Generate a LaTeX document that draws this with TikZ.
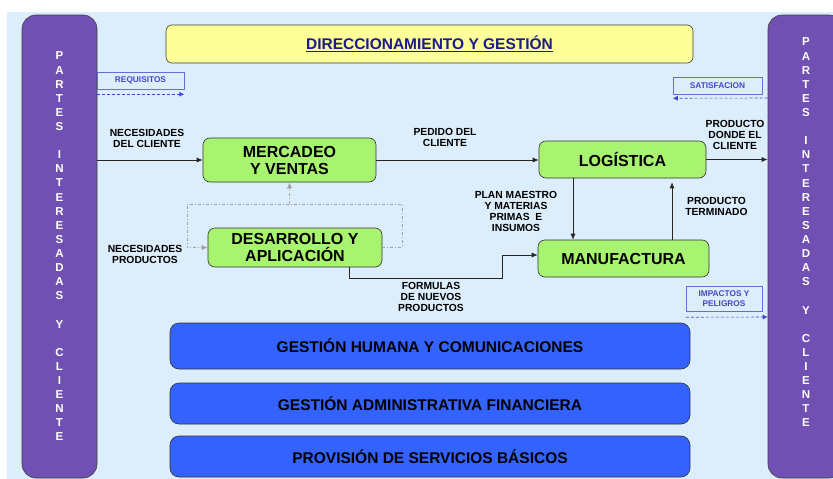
\documentclass[tikz,border=0pt]{standalone}
\usepackage{fontspec}
\setmainfont{Liberation Sans}
\usetikzlibrary{arrows.meta,calc}
\definecolor{bgblue}{RGB}{220,237,251}
\definecolor{barpurple}{RGB}{112,80,178}
\definecolor{boxgreen}{RGB}{168,244,112}
\definecolor{boxyellow}{RGB}{255,255,153}
\definecolor{boxblue}{RGB}{52,98,255}
\definecolor{txtblue}{RGB}{70,70,205}
\definecolor{navy}{RGB}{26,26,140}
\definecolor{loopgray}{RGB}{160,160,165}
\begin{document}
\begin{tikzpicture}[x=1pt,y=-1pt,
  purplebar/.style={draw=black!75,line width=0.6pt,fill=barpurple,rounded corners=14pt},
  greenbox/.style={draw=black!80,line width=0.6pt,fill=boxgreen,rounded corners=7pt,
    font=\bfseries\fontsize{16}{17}\selectfont,align=center,inner sep=0pt},
  bluebox/.style={draw=black!80,line width=0.6pt,fill=boxblue,rounded corners=9pt,
    font=\bfseries\fontsize{15.5}{17}\selectfont,minimum width=520pt,inner sep=0pt},
  smallbox/.style={draw=txtblue!80,line width=0.5pt,text=txtblue,align=center,inner sep=0pt,
    font=\bfseries\fontsize{8.3}{10}\selectfont},
  lbl/.style={align=center,inner sep=0pt,font=\bfseries\fontsize{10.3}{11}\selectfont},
  vletter/.style={text=white,inner sep=0pt,font=\bfseries\fontsize{11.5}{12}\selectfont},
  arr/.style={draw=black!85,line width=0.7pt,-{Latex[length=6pt,width=5pt]}},
  dasharr/.style={draw=txtblue,line width=0.6pt,dash pattern=on 3pt off 2pt,-{Latex[length=5pt,width=5pt]}},
  loopline/.style={draw=loopgray,line width=0.8pt,dash pattern=on 3pt off 2pt on 1pt off 2pt}
]
\useasboundingbox (0,0) rectangle (833,479);
\clip (0,0) rectangle (833,479);
\fill[white] (0,0) rectangle (833,479);
\fill[bgblue] (7,12) rectangle (840,490);

% side bars
\node[purplebar,minimum width=75pt,minimum height=463pt] (L) at (59.5,246.5) {};
\node[purplebar,minimum width=75pt,minimum height=463pt] (R) at (805.5,246.5) {};
\foreach \c [count=\i] in {P,A,R,T,E,S,{},I,N,T,E,R,E,S,A,D,A,S,{},Y,{},C,L,I,E,N,T,E}{
  \node[vletter] (lt\i) at (59.5,{56+(\i-1)*14.11}) {\c};
  \node[vletter] (rt\i) at (806,{42+(\i-1)*14.11}) {\c};
}

% top box
\node[draw=black!75,line width=0.6pt,fill=boxyellow,rounded corners=6pt,minimum width=527pt,minimum height=38pt,
  text=navy,font=\bfseries\fontsize{15.5}{17}\selectfont] (dir) at (429.5,44) {\underline{DIRECCIONAMIENTO Y GESTIÓN}};

% small blue boxes
\node[smallbox,minimum width=87pt,minimum height=17pt] (req) at (140.5,80.5) {REQUISITOS};
\node[smallbox,minimum width=89pt,minimum height=17pt] (sat) at (717.5,85.5) {SATISFACION};
\node[smallbox,minimum width=76pt,minimum height=25pt] (imp) at (724,298.5) {IMPACTOS Y\\PELIGROS};
\draw[dasharr] ($(req.south west)+(0,5)$) -- ($(req.south east)+(0,5)$);
\draw[dasharr] (R.west |- 0,98) -- ($(sat.south west)+(0,4)$);
\draw[dasharr] ($(imp.south west)+(0,6)$) -- (R.west |- 0,317);

% process boxes
\node[greenbox,minimum width=173pt,minimum height=44pt] (merc) at (289.5,160) {MERCADEO\\Y VENTAS};
\node[greenbox,minimum width=174pt,minimum height=39pt] (des) at (295,247.5) {DESARROLLO Y\\APLICACIÓN};
\node[greenbox,minimum width=167pt,minimum height=37pt] (log) at (622.5,159.5) {LOGÍSTICA};
\node[greenbox,minimum width=171pt,minimum height=37pt] (manu) at (623.5,258.5) {MANUFACTURA};

% bottom boxes
\node[bluebox,minimum height=46pt] (gh) at (430,346) {GESTIÓN HUMANA Y COMUNICACIONES};
\node[bluebox,minimum height=41pt] (ga) at (430,403.5) {GESTIÓN ADMINISTRATIVA FINANCIERA};
\node[bluebox,minimum height=41pt] (ps) at (430,456.5) {PROVISIÓN DE SERVICIOS BÁSICOS};

% gray loop
\coordinate (lpL) at (187,204);
\coordinate (lpR) at (402,204);
\draw[loopline,-{Latex[length=6pt,width=5pt]}] (des.east) -| (lpR) -- (lpL) |- (des.west);
\draw[loopline,-{Latex[length=6pt,width=5pt]}] (merc.south |- lpL) -- (merc.south);

% flows
\draw[arr] (L.east |- merc.west) -- (merc.west);
\draw[arr] (merc.east) -- (log.west |- merc.east);
\draw[arr] (log.east) -- (R.west |- log.east);
\draw[arr] ([xshift=-49.5pt]log.south) -- ([xshift=-49.5pt]log.south |- manu.north);
\draw[arr] ([xshift=48.5pt]manu.north) -- ([xshift=48.5pt,yshift=-4pt]manu.north |- log.south);
\draw[arr] ([xshift=54pt]des.south) -- ++(0,11) -| ([xshift=-35pt,yshift=3.5pt]manu.west) -- ([yshift=3.5pt]manu.west);

% labels
\node[lbl] (l1) at (147,138.5) {NECESIDADES\\DEL CLIENTE};
\node[lbl] (l2) at (445,137) {PEDIDO DEL\\CLIENTE};
\node[lbl] (l3) at (735,134.5) {PRODUCTO\\DONDE EL\\CLIENTE};
\node[lbl] (l4) at (145,254.5) {NECESIDADES\\PRODUCTOS};
\node[lbl] (l5) at (516,211) {PLAN MAESTRO\\Y MATERIAS\\PRIMAS~ E\\INSUMOS};
\node[lbl] (l6) at (716.5,206.5) {PRODUCTO\\TERMINADO};
\node[lbl] (l7) at (431,297) {FORMULAS\\DE NUEVOS\\PRODUCTOS};
\end{tikzpicture}
\end{document}
